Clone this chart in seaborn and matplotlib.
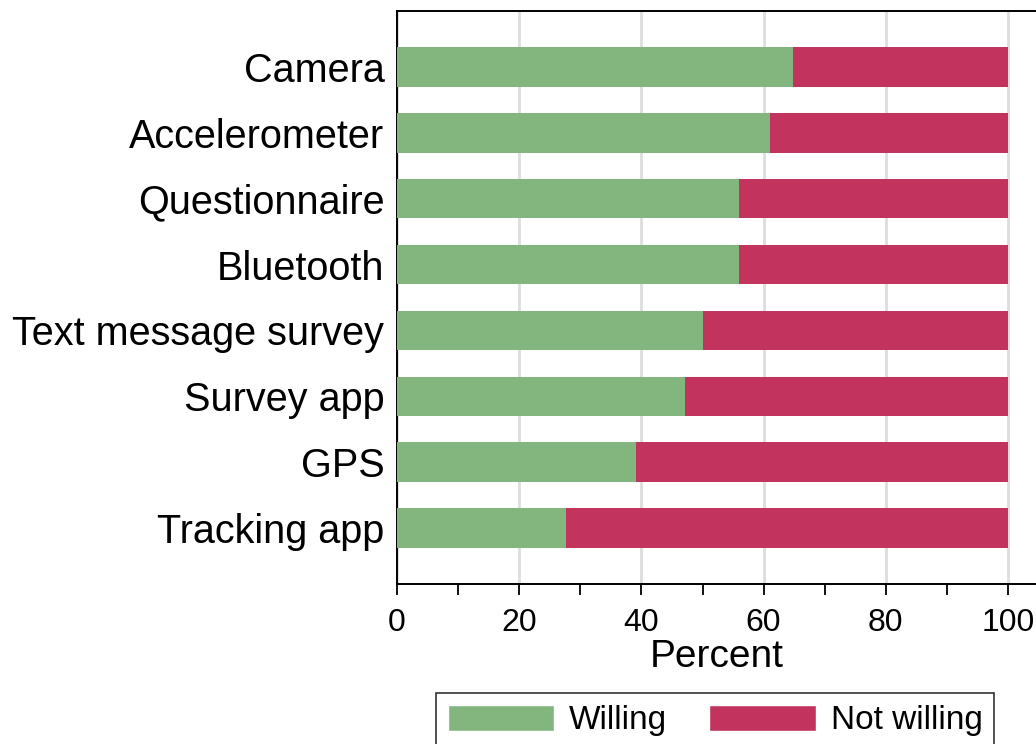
"""Stacked horizontal bars: willingness to share data by collection method."""
import matplotlib
matplotlib.use("Agg")
import matplotlib.pyplot as plt
import matplotlib.patches as mpatches
from matplotlib.ticker import MultipleLocator
import pandas as pd
import seaborn as sns

methods = ["Camera", "Accelerometer", "Questionnaire", "Bluetooth",
           "Text message survey", "Survey app", "GPS", "Tracking app"]
willing = [64.8, 61.0, 56.0, 56.0, 50.1, 47.1, 39.1, 27.7]
not_willing = [100 - w for w in willing]

GREEN = "#83b67f"
RED = "#c2345d"

df = pd.DataFrame({"method": methods, "willing": willing, "not_willing": not_willing})
df["total"] = df["willing"] + df["not_willing"]

sns.set_style("white")
plt.rcParams["font.family"] = ["Liberation Sans", "DejaVu Sans"]
plt.rcParams["text.color"] = "black"
plt.rcParams["axes.labelcolor"] = "black"
plt.rcParams["xtick.color"] = "black"
plt.rcParams["ytick.color"] = "black"

fig = plt.figure(figsize=(10.36, 7.44), dpi=100)
ax = fig.add_axes([397 / 1036, 1 - 584 / 744, 1 - 397 / 1036, (584 - 11) / 744])

sns.barplot(data=df, x="total", y="method", color=RED, width=0.6,
            saturation=1, ax=ax, zorder=2)
sns.barplot(data=df, x="willing", y="method", color=GREEN, width=0.6,
            saturation=1, ax=ax, zorder=3)
for p in ax.patches:
    p.set_linewidth(0)

ax.set_xlim(0, 104.58)
ax.set_ylim(7.85, -0.85)
ax.xaxis.set_major_locator(MultipleLocator(20))
ax.xaxis.set_minor_locator(MultipleLocator(10))
ax.grid(axis="x", which="major", color="#dddddd", linewidth=2, zorder=0)
ax.grid(axis="y", visible=False)
ax.set_axisbelow(True)

ax.tick_params(axis="x", which="both", direction="out", length=8, width=1.3,
               color="black", labelsize=23, pad=9, bottom=True)
ax.tick_params(axis="y", length=0, labelsize=28.5, pad=9)
ax.set_xlabel("Percent", fontsize=28, labelpad=1)
ax.set_ylabel("")

for side in ["left", "top", "bottom"]:
    ax.spines[side].set_visible(True)
    ax.spines[side].set_color("black")
    ax.spines[side].set_linewidth(1.4)
ax.spines["right"].set_visible(False)

handles = [mpatches.Patch(facecolor=GREEN, label="Willing"),
           mpatches.Patch(facecolor=RED, label="Not willing")]
leg = fig.legend(handles=handles, loc="upper left", ncol=2,
                 bbox_to_anchor=(436 / 1036, 1 - 693 / 744),
                 borderaxespad=0, fontsize=24, frameon=True, fancybox=False,
                 handlelength=3.2, handleheight=0.85, handletextpad=0.45,
                 columnspacing=1.25, borderpad=0.35)
leg.get_frame().set_edgecolor("black")
leg.get_frame().set_linewidth(1.2)

fig.savefig("out.png", dpi=100)
plt.close(fig)
